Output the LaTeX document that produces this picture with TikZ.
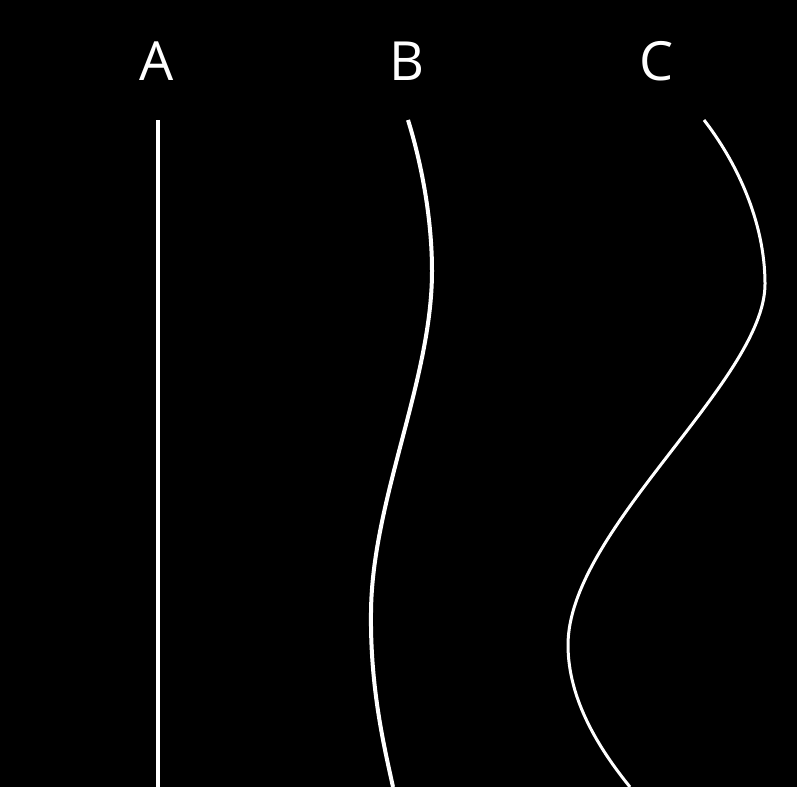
\documentclass[tikz,border=0pt]{standalone}
\usepackage{fontspec}
\setmainfont{Open Sans}
\begin{document}
\begin{tikzpicture}[x=1pt,y=-1pt,
  lbl/.style={text=white,font=\fontsize{54}{60}\selectfont,inner sep=0pt,anchor=base},
  wire/.style={draw=white,line width=4pt},
  thinwire/.style={draw=white,line width=3pt}]
\fill[black] (0,0) rectangle (797,787);
\useasboundingbox (0,0) rectangle (797,787);
\node[lbl] (la) at (157,80) {A};
\node[lbl] (lb) at (407,80) {B};
\node[lbl] (lc) at (657,80) {C};
% A
\coordinate (a1) at (158,120);
\coordinate (a2) at (158,787);
\draw[wire] (a1) -- (a2);
% B
\draw[wire] (408,120) .. controls (422,165) and (432,220) .. (432,271)
  .. controls (432,380) and (372,500) .. (371,612)
  .. controls (370,690) and (385,750) .. (393,787);
% C
\draw[thinwire] (704,120) .. controls (735,160) and (765,220) .. (765,284)
  .. controls (765,380) and (568,530) .. (568,645)
  .. controls (568,700) and (600,750) .. (630,787);
\end{tikzpicture}
\end{document}
